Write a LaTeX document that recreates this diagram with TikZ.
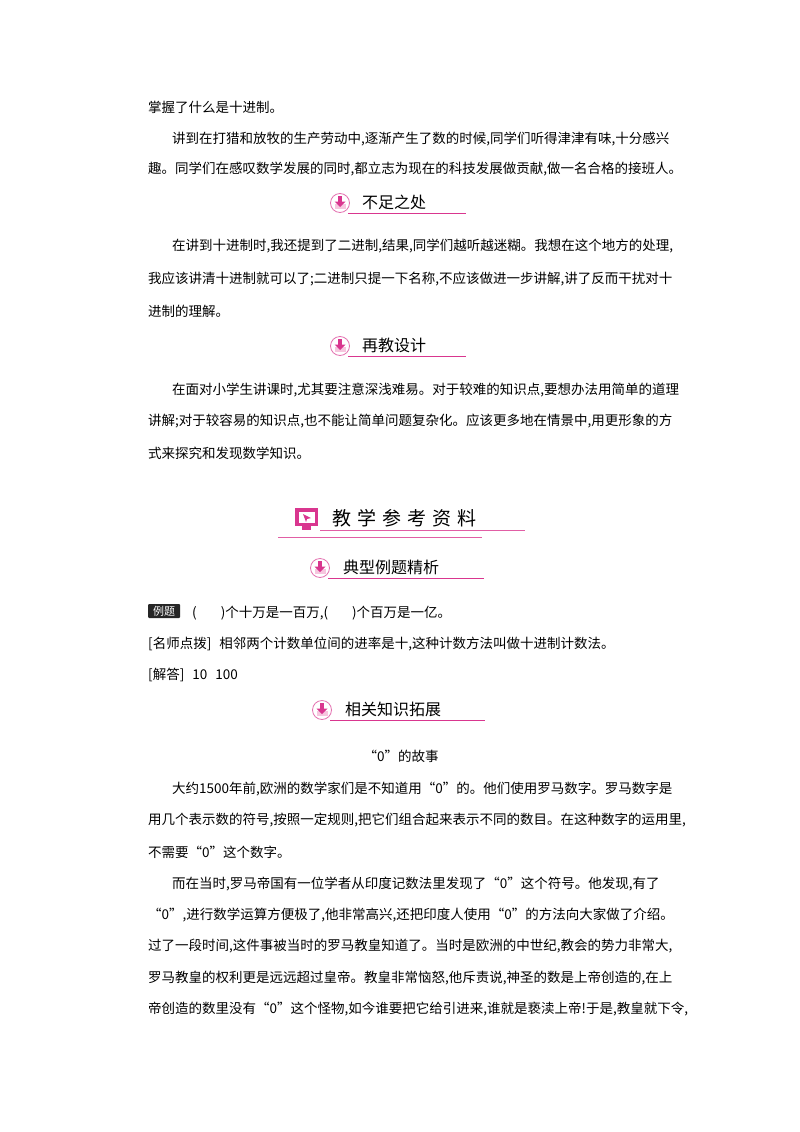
\documentclass[tikz,border=0pt]{standalone}
\usepackage{fontspec}
\setmainfont{Noto Sans CJK SC}
\XeTeXlinebreaklocale "zh"
\XeTeXlinebreakskip=0pt plus 2pt
\definecolor{pk}{HTML}{D9368F}
\definecolor{lpk}{HTML}{F6C6DE}
\tikzset{
  ln/.style={anchor=west,inner sep=0pt,font=\fontsize{13.5}{16}\selectfont},
  hd/.style={anchor=west,inner sep=0pt,font=\fontsize{16}{18}\selectfont},
}
\newcommand{\jl}[1]{\hbox to 520pt{#1}}
\newcommand{\jli}[1]{\hbox to 496pt{#1}}
\newcommand{\icon}[3]{% name, x, y
  \draw[pk!70,line width=0.8pt,fill=white] (#2,#3) circle (9.5);
  \fill[lpk] (#2-5.5,#3+1) rectangle (#2+5.5,#3+6);
  \fill[pk] (#2-2,#3-7) rectangle (#2+2,#3-1);
  \fill[pk] (#2-5.5,#3-1.5) -- (#2+5.5,#3-1.5) -- (#2,#3+4) -- cycle;
  \coordinate (#1) at (#2,#3);}
\begin{document}
\begin{tikzpicture}[x=1pt,y=-1pt]
\useasboundingbox[fill=white] (0,0) rectangle (800,1132);
\node[ln] (l1) at (148,107) {掌握了什么是十进制。};
\node[ln] (l2) at (172,139) {\jli{讲到在打猎和放牧的生产劳动中,逐渐产生了数的时候,同学们听得津津有味,十分感兴}};
\node[ln] (l3) at (148,169) {趣。同学们在感叹数学发展的同时,都立志为现在的科技发展做贡献,做一名合格的接班人。};
% header 1
\icon{i1}{340}{203}
\node[hd] (h1) at (362,202) {不足之处};
\draw[pk,line width=0.8pt] (348,213) -- (466,213);
\node[ln] (p1) at (172,246) {\jli{在讲到十进制时,我还提到了二进制,结果,同学们越听越迷糊。我想在这个地方的处理,}};
\node[ln] (p2) at (148,279) {\jl{我应该讲清十进制就可以了;二进制只提一下名称,不应该做进一步讲解,讲了反而干扰对十}};
\node[ln] (p3) at (148,311) {进制的理解。};
\icon{i2}{340}{346}
\node[hd] (h2) at (362,345) {再教设计};
\draw[pk,line width=0.8pt] (348,356) -- (466,356);
\node[ln] (q1) at (172,390) {\jli{在面对小学生讲课时,尤其要注意深浅难易。对于较难的知识点,要想办法用简单的道理}};
\node[ln] (q2) at (148,421) {\jl{讲解;对于较容易的知识点,也不能让简单问题复杂化。应该更多地在情景中,用更形象的方}};
\node[ln] (q3) at (148,453) {式来探究和发现数学知识。};
% big header
\fill[pk] (295,508) rectangle (318,526);
\fill[white] (298.5,511.5) rectangle (314.5,522.5);
\fill[pk] (303,514) -- (311,518) -- (307,519) -- (306,522) -- cycle;
\fill[pk] (302,526) rectangle (311,530);
\coordinate (ic) at (306,518);
\node[anchor=west,inner sep=0pt,font=\fontsize{19}{22}\selectfont] (big) at (332,518) {教\hskip6pt 学\hskip6pt 参\hskip6pt 考\hskip6pt 资\hskip6pt 料};
\draw[pk!80,line width=0.6pt] (320,530) -- (525,530);
\draw[pk!80,line width=0.6pt] (278,537) -- (482,537);
\icon{i3}{320}{568}
\node[hd] (h3) at (343,567) {典型例题精析};
\draw[pk,line width=0.8pt] (328,578) -- (484,578);
\node[anchor=west,fill=black!85,text=white,inner sep=0pt,minimum width=32pt,minimum height=14pt,rounded corners=1pt,font=\fontsize{11}{12}\selectfont] (lt) at (148,611) {例题};
\node[ln] (e1) at (192,613) {(\hskip 24pt )个十万是一百万,(\hskip 24pt )个百万是一亿。};
\node[ln] (e2) at (148,644) {[名师点拨]\hskip 8pt 相邻两个计数单位间的进率是十,这种计数方法叫做十进制计数法。};
\node[ln] (e3) at (148,675) {[解答]\hskip 8pt 10\hskip 8pt 100};
\icon{i4}{322}{710}
\node[hd] (h4) at (345,709) {相关知识拓展};
\draw[pk,line width=0.8pt] (330,720) -- (485,720);
\node[ln,anchor=center] (t) at (401,756) {“0”的故事};
\node[ln] (s1) at (172,789) {\jli{大约1500年前,欧洲的数学家们是不知道用“0”的。他们使用罗马数字。罗马数字是}};
\node[ln] (s2) at (148,820) {\jl{用几个表示数的符号,按照一定规则,把它们组合起来表示不同的数目。在这种数字的运用里,}};
\node[ln] (s3) at (148,852) {不需要“0”这个数字。};
\node[ln] (s4) at (172,884) {\jli{而在当时,罗马帝国有一位学者从印度记数法里发现了“0”这个符号。他发现,有了}};
\node[ln] (s5) at (148,915) {\jl{“0”,进行数学运算方便极了,他非常高兴,还把印度人使用“0”的方法向大家做了介绍。}};
\node[ln] (s6) at (148,946) {\jl{过了一段时间,这件事被当时的罗马教皇知道了。当时是欧洲的中世纪,教会的势力非常大,}};
\node[ln] (s7) at (148,978) {\jl{罗马教皇的权利更是远远超过皇帝。教皇非常恼怒,他斥责说,神圣的数是上帝创造的,在上}};
\node[ln] (s8) at (148,1009) {\jl{帝创造的数里没有“0”这个怪物,如今谁要把它给引进来,谁就是亵渎上帝!于是,教皇就下令,}};
\end{tikzpicture}
\end{document}
